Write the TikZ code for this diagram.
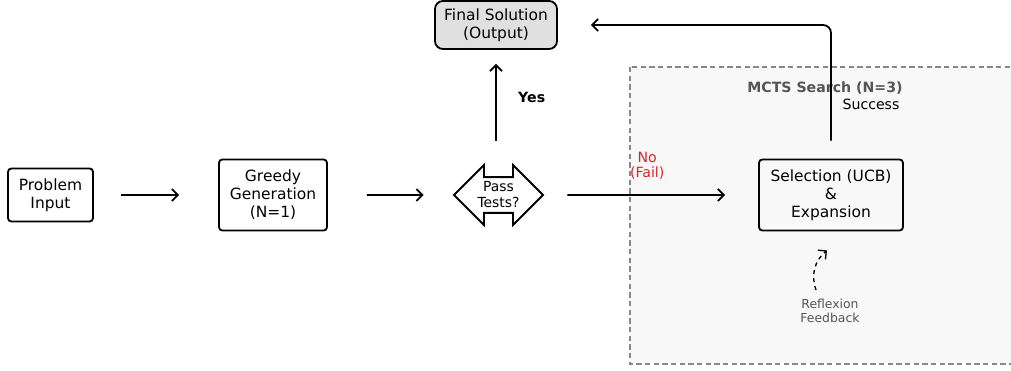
\documentclass[tikz,border=0pt]{standalone}
\usepackage{fontspec}
\setmainfont{DejaVu Sans}
\usetikzlibrary{shapes.arrows,arrows.meta}
\definecolor{failred}{HTML}{D62728}
\definecolor{labelgray}{HTML}{555555}
\definecolor{clusterfill}{HTML}{F8F8F8}
\definecolor{finalfill}{HTML}{E0E0E0}

\begin{document}
\begin{tikzpicture}[x=0.75pt,y=-0.75pt,>={Straight Barb[length=4.5pt,width=9pt]},line width=1.35pt,
  box/.style={draw,rounded corners=2.5pt,align=center,inner sep=1pt,font=\fontsize{11.6}{13.5}\selectfont},
  decision/.style={draw,double arrow,double arrow head extend=7.5pt,align=center,inner sep=0.5pt,
    minimum height=66.75pt,minimum width=45pt,font=\fontsize{10.4}{12}\selectfont},
  edgelabel/.style={font=\fontsize{10.6}{11.25}\selectfont,inner sep=1pt,align=center}]
  \clip (0,0) rectangle (1011,371);
  \draw[labelgray!70,fill=clusterfill,dashed,dash pattern=on 4pt off 2.5pt,line width=0.9pt]
    (630,67) rectangle (1030,364);
  \node[font=\bfseries\fontsize{10.6}{12}\selectfont,text=labelgray] (mcts) at (825,88) {MCTS Search (N=3)};

  \node[box,minimum width=63.75pt,minimum height=39.75pt] (input) at (50.5,195) {Problem\\Input};
  \node[box,minimum width=81pt,minimum height=53.25pt] (greedy) at (273,195) {Greedy\\Generation\\(N=1)};
  \node[decision] (pass) at (498.5,195) {Pass\\Tests?};
  \node[box,fill=finalfill,rounded corners=6pt,minimum width=91.5pt,minimum height=36pt] (final) at (496,25) {Final Solution\\(Output)};
  \node[box,minimum width=108pt,minimum height=53.25pt] (select) at (831,195) {Selection (UCB)\\\&\\Expansion};
  \node[font=\fontsize{9.3}{10.5}\selectfont,text=labelgray,align=center] (reflex) at (830,311) {Reflexion\\Feedback};

  \draw[->,shorten <=20.25pt,shorten >=29.25pt] (input) -- (greedy);
  \draw[->,shorten <=29.25pt,shorten >=21.75pt] (greedy) -- (pass);
  \draw[->,shorten <=17.25pt,shorten >=24.75pt] (pass.east) -- (select)
    node[midway,above=10pt,edgelabel,text=failred,xshift=-3pt] {No\\(Fail)};
  \draw[->,shorten >=10.5pt] ([xshift=-1.875pt,yshift=40.5pt]pass.center) -- (final.south)
    node[midway,right=15pt,edgelabel,font=\bfseries\fontsize{10.6}{12}\selectfont,yshift=-1.5pt] {Yes};
  \draw[->,rounded corners=6pt] ([yshift=13.5pt]select.north) |- ([xshift=24.75pt]final.east)
    node[pos=0.155,right=7pt,edgelabel] {Success};
  \draw[->,dashed,line width=1pt] ([xshift=-10.5pt,yshift=3pt]reflex.north) to[bend left=35] ([xshift=-3pt,yshift=-14.25pt]select.south);
\end{tikzpicture}
\end{document}
